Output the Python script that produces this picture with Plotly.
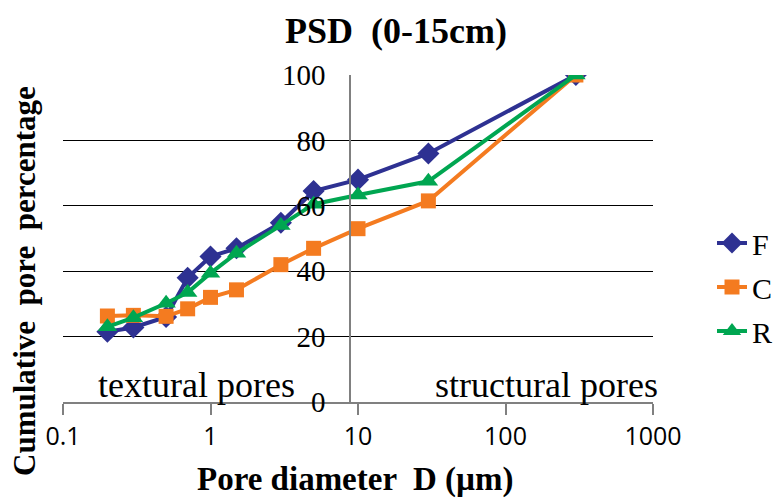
import plotly.graph_objects as go

# ---- data ----
diameter = [0.2, 0.3, 0.5, 0.7, 1, 1.5, 3, 5, 10, 30, 300]
F_vals = [21.5, 22.8, 26.0, 38.0, 44.5, 47.0, 54.8, 64.5, 68.0, 76.0, 100]
C_vals = [26.3, 26.5, 26.2, 28.5, 32.0, 34.3, 42.0, 47.0, 53.0, 61.5, 100]
R_vals = [23.0, 25.8, 30.2, 33.5, 39.4, 45.5, 54.0, 60.5, 63.3, 67.5, 100]
series_names = ["F", "C", "R"]
x_tick_vals = [0.1, 1, 10, 100, 1000]
x_tick_text = ["0.1", "1", "10", "100", "1000"]
y_tick_vals = [0, 20, 40, 60, 80, 100]

colors = ["#2E3192", "#F47B20", "#00A651"]
symbols = ["diamond", "square", "triangle-up"]
sizes = [17, 15, 17]

# page body has an 8px margin: build the figure smaller and shifted
OFF = 8
W, H = 783 - OFF, 500 - OFF
L, R, T, B = 55, 130, 67, 98
pw, ph = W - L - R, H - T - B

def px(xref):
    return (xref - OFF - L) / pw

def py(yref):
    return (H - B - (yref - OFF)) / ph

fig = go.Figure()
for name, vals, c, s, sz in zip(series_names, [F_vals, C_vals, R_vals], colors, symbols, sizes):
    fig.add_trace(go.Scatter(
        x=diameter, y=vals, name=name, mode="lines+markers",
        line=dict(color=c, width=4),
        marker=dict(symbol=s, size=sz, color=c),
        legendgroup=name,
    ))

serif = "Liberation Serif"

fig.update_layout(
    width=W, height=H,
    margin=dict(l=L, r=R, t=T, b=B, autoexpand=False),
    paper_bgcolor="white", plot_bgcolor="white",
    title=dict(text="<b>PSD  (0-15cm)</b>", x=px(396), xref="paper", xanchor="center",
               y=1 - (30 - OFF) / H, yanchor="middle", yref="container",
               font=dict(family=serif, size=36, color="black")),
    xaxis=dict(type="log", range=[-1, 3], tickvals=x_tick_vals, ticktext=x_tick_text,
               showgrid=False, showline=True, linecolor="#808080", linewidth=1.5,
               ticks="outside", ticklen=11, tickcolor="#808080", tickwidth=1.5,
               tickfont=dict(family="Open Sans", size=25, color="black"),
               zeroline=False),
    yaxis=dict(range=[0, 100], tickvals=y_tick_vals, anchor="free", position=px(350),
               showgrid=True, gridcolor="black", gridwidth=1,
               showline=True, linecolor="#808080", linewidth=1.5,
               ticks="", zeroline=False, ticklabelstandoff=18,
               tickfont=dict(family=serif, size=29, color="black")),
    legend=dict(x=px(712), y=py(217), xanchor="left", yanchor="top",
                font=dict(family=serif, size=30, color="black"),
                tracegroupgap=2, bgcolor="rgba(0,0,0,0)", itemwidth=30),
    showlegend=True,
)

ann = [
    dict(text="<b>Cumulative  pore  percentage</b>", x=px(24), y=py(281), textangle=-90,
         font=dict(family=serif, size=31, color="black")),
    dict(text="<b>Pore diameter  D (µm)</b>", x=px(355), y=py(480),
         font=dict(family=serif, size=33, color="black")),
    dict(text="textural pores", x=px(196), y=py(385),
         font=dict(family=serif, size=36, color="black")),
    dict(text="structural pores", x=px(546), y=py(385),
         font=dict(family=serif, size=36, color="black")),
]
for a in ann:
    fig.add_annotation(xref="paper", yref="paper", showarrow=False,
                       xanchor="center", yanchor="middle", **a)

fig.write_html("out.html")
